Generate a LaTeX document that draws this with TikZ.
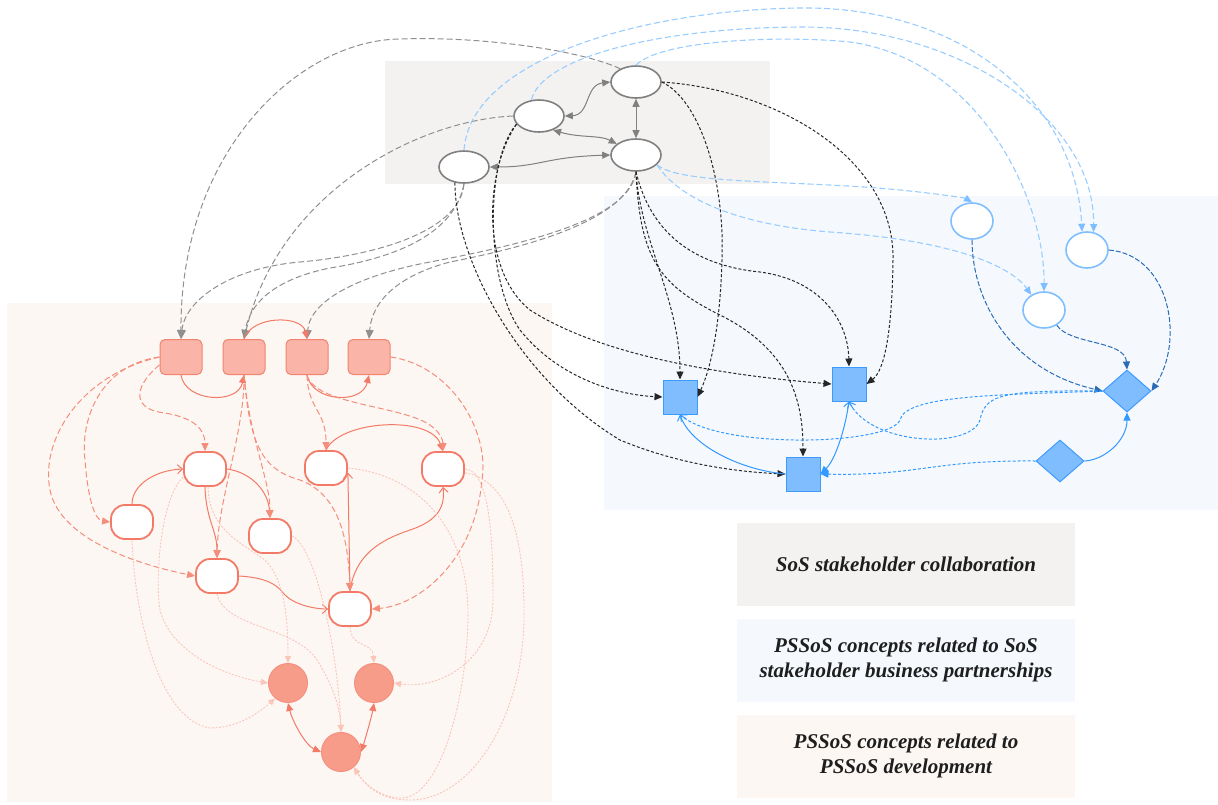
\documentclass[tikz,border=0pt]{standalone}
\usepackage{fontspec}
\setmainfont{Liberation Serif}
\usetikzlibrary{shapes.geometric,arrows.meta}
\definecolor{gbg}{HTML}{F3F2F1}
\definecolor{bbg}{HTML}{F5F9FE}
\definecolor{rbg}{HTML}{FDF7F4}
\definecolor{gnodec}{HTML}{808080}
\definecolor{glinec}{HTML}{8F8F8F}
\definecolor{klinec}{HTML}{262626}
\definecolor{lbluec}{HTML}{99CCFF}
\definecolor{lbnodec}{HTML}{80BFFF}
\definecolor{dbluec}{HTML}{2A6CB5}
\definecolor{mbluec}{HTML}{3399FF}
\definecolor{sqfillc}{HTML}{80BDFF}
\definecolor{sqdrawc}{HTML}{3D9BFF}
\definecolor{rsqfillc}{HTML}{FAB5A8}
\definecolor{rsqdrawc}{HTML}{F2836F}
\definecolor{rlinec}{HTML}{F37A66}
\definecolor{rdashc}{HTML}{F58D7B}
\definecolor{rlightc}{HTML}{FBC5B9}
\definecolor{rcfillc}{HTML}{F89C8A}
\definecolor{rcdrawc}{HTML}{F4907D}
\definecolor{legtext}{HTML}{1E1E1E}
\tikzset{
  gnode/.style={ellipse,draw=gnodec,line width=1.6pt,fill=white,minimum width=50pt,minimum height=32pt,inner sep=0pt},
  bnode/.style={ellipse,draw=lbnodec,line width=1.6pt,fill=white,minimum width=42pt,minimum height=36pt,inner sep=0pt},
  bsq/.style={rectangle,fill=sqfillc,draw=sqdrawc,line width=1pt,minimum size=34pt,inner sep=0pt},
  bdia/.style={diamond,fill=sqfillc,draw=sqdrawc,line width=1pt,minimum width=48pt,minimum height=42pt,inner sep=0pt},
  rsq/.style={rectangle,rounded corners=5pt,fill=rsqfillc,draw=rsqdrawc,line width=1pt,minimum width=42pt,minimum height=35pt,inner sep=0pt},
  rell/.style={rectangle,rounded corners=14pt,fill=white,draw=rlinec,line width=1.8pt,minimum width=42pt,minimum height=34pt,inner sep=0pt},
  rcirc/.style={circle,fill=rcfillc,draw=rcdrawc,line width=1pt,minimum size=39pt,inner sep=0pt},
  legbox/.style={rectangle,minimum width=338pt,minimum height=83pt,align=center,text=legtext,
     font=\fontsize{21}{25}\selectfont\bfseries\itshape},
  gedge/.style={draw=glinec,line width=1pt,dash pattern=on 6pt off 3pt,-{Triangle[length=9pt,width=8pt]}},
  gsol/.style={draw=gnodec,line width=1pt,{Triangle[length=8pt,width=7pt]}-{Triangle[length=8pt,width=7pt]}},
  kedge/.style={draw=klinec,line width=1pt,dash pattern=on 3pt off 2pt,-{Triangle[length=8pt,width=7pt]}},
  lbedge/.style={draw=lbluec,line width=1.1pt,dash pattern=on 6pt off 3pt,-{Triangle[length=8pt,width=7pt,color=lbnodec]}},
  dbedge/.style={draw=dbluec,line width=1pt,dash pattern=on 5pt off 2pt,-{Triangle[length=8pt,width=7pt]}},
  mbdot/.style={draw=mbluec,line width=1pt,dash pattern=on 3pt off 2pt},
  mbsol/.style={draw=mbluec,line width=1pt},
  rsol/.style={draw=rlinec,line width=1pt},
  rdash/.style={draw=rdashc,line width=1pt,dash pattern=on 6pt off 3pt},
  rdot/.style={draw=rlightc,line width=0.9pt,dash pattern=on 2pt off 1.5pt},
}
\begin{document}
\begin{tikzpicture}[x=1pt,y=-1pt]
\useasboundingbox (0,0) rectangle (1218,804);
% background regions
\fill[gbg] (385,61) rectangle (770,184);
\fill[bbg] (604,196) rectangle (1218,510);
\fill[rbg] (7,303) rectangle (552,802);

% legend
\node[legbox,fill=gbg] (L1) at (906,564) {SoS stakeholder collaboration};
\node[legbox,fill=bbg] (L2) at (906,660) {PSSoS concepts related to SoS\\stakeholder business partnerships};
\node[legbox,fill=rbg] (L3) at (906,756) {PSSoS concepts related to\\PSSoS development};

% gray nodes
\node[gnode] (G1) at (636,82) {};
\node[gnode] (G2) at (539,116) {};
\node[gnode] (G3) at (636,155) {};
\node[gnode] (G4) at (464,167) {};

% blue nodes
\node[bnode] (B1) at (972,221) {};
\node[bnode] (B2) at (1087,250) {};
\node[bnode] (B3) at (1044,310) {};
\node[bsq] (S1) at (680,397) {};
\node[bsq] (S2) at (849,384) {};
\node[bsq] (S3) at (803,474) {};
\node[bdia] (D1) at (1127,391) {};
\node[bdia] (D2) at (1060,461) {};

% red nodes
\node[rsq] (R1) at (181,357) {};
\node[rsq] (R2) at (244,357) {};
\node[rsq] (R3) at (307,357) {};
\node[rsq] (R4) at (369,357) {};
\node[rell] (E1) at (205,469) {};
\node[rell] (E2) at (326,468) {};
\node[rell] (E3) at (443,469) {};
\node[rell] (E4) at (132,522) {};
\node[rell] (E5) at (270,536) {};
\node[rell] (E6) at (217,576) {};
\node[rell] (E7) at (350,609) {};
\node[rcirc] (C1) at (288,683) {};
\node[rcirc] (C2) at (374,683) {};
\node[rcirc] (C3) at (341,752) {};

% ---- gray solid edges
\draw[gsol] (G2.east) .. controls (590,115) and (585,85) .. (G1.west);
\draw[gsol] (G1.south) -- (G3.north);
\draw[gsol] (G2.-45) .. controls (580,138) and (600,135) .. (G3.150);
\draw[gsol] (G4.east) .. controls (540,167) and (545,157) .. (G3.west);

% ---- gray dashed edges to red squares
\draw[gedge] (G1.140) .. controls (580,50) and (480,36) .. (400,39) .. controls (300,40) and (180,150) .. (R1.north);
\draw[gedge] (G2.west) .. controls (420,120) and (280,190) .. (R2.north);
\draw[gedge] (G4.south) .. controls (460,230) and (380,255) .. (300,262) .. controls (230,268) and (185,300) .. (R1.north);
\draw[gedge] (G4.south) .. controls (455,232) and (400,257) .. (330,268) .. controls (280,278) and (250,300) .. (R2.north);
\draw[gedge] (G3.south) .. controls (630,220) and (520,245) .. (430,262) .. controls (360,275) and (310,300) .. (R3.north);
\draw[gedge] (G3.south) .. controls (625,225) and (510,250) .. (450,262) .. controls (400,275) and (372,300) .. (R4.north);

% ---- black dashed edges to blue squares
\draw[kedge] (G3.south) .. controls (640,240) and (680,300) .. (S1.north);
\draw[kedge] (G3.south) .. controls (640,260) and (660,285) .. (720,315) .. controls (790,350) and (803,400) .. (S3.north);
\draw[kedge] (G3.south) .. controls (650,230) and (690,265) .. (760,272) .. controls (820,280) and (848,320) .. (S2.north);
\draw[kedge] (G1.east) .. controls (780,90) and (895,160) .. (893,260) .. controls (892,330) and (885,370) .. (S2.east);
\draw[kedge] (G1.east) .. controls (700,100) and (725,180) .. (722,260) .. controls (720,330) and (710,370) .. (S1.east);
\draw[kedge] (G2.200) .. controls (485,160) and (485,280) .. (520,330) .. controls (560,380) and (620,395) .. (S1.west);
\draw[kedge] (G2.200) .. controls (485,170) and (480,270) .. (530,310) .. controls (600,355) and (720,375) .. (S2.west);
\draw[kedge] (G4.240) .. controls (455,260) and (520,380) .. (620,440) .. controls (680,465) and (740,472) .. (S3.west);

% ---- light blue dashed edges
\draw[lbedge] (G4.north) .. controls (470,60) and (640,10) .. (800,8) .. controls (960,6) and (1075,100) .. (B2.105);
\draw[lbedge] (G2.115) .. controls (540,60) and (650,28) .. (800,27) .. controls (960,26) and (1095,120) .. (B2.70);
\draw[lbedge] (G1.north) .. controls (660,40) and (780,35) .. (850,42) .. controls (980,60) and (1045,200) .. (B3.north);
\draw[lbedge] (G3.-25) .. controls (680,185) and (800,180) .. (900,190) .. controls (940,194) and (965,198) .. (B1.north);
\draw[lbedge] (G3.-25) .. controls (680,200) and (740,225) .. (830,232) .. controls (950,240) and (1010,265) .. (B3.130);

% ---- dark blue dashed edges
\draw[dbedge] (B1.south) .. controls (972,300) and (1010,370) .. (D1.west);
\draw[dbedge] (B3.-50) .. controls (1070,345) and (1125,340) .. (D1.north);
\draw[dbedge] (B2.east) .. controls (1170,255) and (1185,340) .. (D1.east);

% ---- medium blue edges
\draw[mbdot,-{Straight Barb[length=5pt,width=9pt]}] (D1.west) .. controls (1000,395) and (905,395) .. (900,420) .. controls (890,445) and (720,450) .. (S1.south);
\draw[mbdot,-{Straight Barb[length=5pt,width=9pt]}] (D1.west) .. controls (1000,390) and (985,395) .. (980,420) .. controls (970,450) and (870,445) .. (S2.south);
\draw[mbdot,-{Triangle[length=8pt,width=7pt]}] (D2.west) .. controls (930,460) and (920,476) .. (S3.east);
\draw[mbsol,-{Triangle[length=8pt,width=7pt]}] (D2.east) .. controls (1105,460) and (1127,440) .. (D1.south);
\draw[mbsol,-{Straight Barb[length=5pt,width=9pt]}] (S3.west) .. controls (740,470) and (690,445) .. (S1.south);
\draw[mbsol,{Triangle[length=8pt,width=7pt]}-{Straight Barb[length=5pt,width=9pt]}] (S3.east) .. controls (835,460) and (845,430) .. (S2.south);

% ---- red solid edges
\draw[rsol,-{Triangle[length=8pt,width=7pt]}] (R1.south) .. controls (185,402) and (238,405) .. (R2.south);
\draw[rsol,-{Triangle[length=8pt,width=7pt]}] (R2.north) .. controls (252,315) and (302,315) .. (R3.north);
\draw[rsol,-{Triangle[length=8pt,width=7pt]}] (R3.south) .. controls (312,402) and (362,405) .. (R4.south);
\draw[rsol,-{Triangle[length=8pt,width=7pt]}] (E2.north) .. controls (340,420) and (430,415) .. (E3.north);
\draw[rsol,-{Straight Barb[length=5pt,width=9pt]}] (E4.north) .. controls (132,485) and (155,470) .. (E1.west);
\draw[rsol,-{Triangle[length=8pt,width=7pt]}] (E1.east) .. controls (250,472) and (268,490) .. (E5.north);
\draw[rsol,-{Triangle[length=8pt,width=7pt]}] (E1.south) .. controls (206,520) and (217,530) .. (E6.north);
\draw[rsol,-{Straight Barb[length=5pt,width=9pt]}] (E6.east) .. controls (275,578) and (280,590) .. (285,595) .. controls (295,605) and (315,609) .. (E7.west);
\draw[rsol,{Straight Barb[length=5pt,width=9pt]}-{Triangle[length=8pt,width=7pt]}] (E2.-12) -- (E7.north);
\draw[rsol,-{Straight Barb[length=5pt,width=9pt]}] (E7.north) .. controls (355,555) and (380,540) .. (410,530) .. controls (440,520) and (445,505) .. (E3.south);
\draw[rsol,{Triangle[length=8pt,width=7pt]}-{Triangle[length=8pt,width=7pt]}] (C1.south) .. controls (292,720) and (305,745) .. (C3.west);
\draw[rsol,{Triangle[length=8pt,width=7pt]}-{Triangle[length=8pt,width=7pt]}] (C2.south) .. controls (372,715) and (365,740) .. (C3.east);

% ---- red dashed edges
\draw[rdash,-{Triangle[length=8pt,width=7pt]}] (R1.west) .. controls (100,365) and (80,420) .. (85,460) .. controls (88,500) and (95,520) .. (E4.west);
\draw[rdash,-{Triangle[length=8pt,width=7pt]}] (R1.west) .. controls (80,375) and (40,440) .. (50,490) .. controls (60,540) and (140,565) .. (E6.west);
\draw[rdash,-{Triangle[length=8pt,width=7pt]}] (R1.200) .. controls (130,390) and (135,410) .. (165,413) .. controls (195,418) and (205,430) .. (E1.north);
\draw[rdash,-{Triangle[length=8pt,width=7pt]}] (R2.south) .. controls (245,430) and (218,500) .. (E6.north);
\draw[rdash,-{Triangle[length=8pt,width=7pt]}] (R2.south) .. controls (250,440) and (270,480) .. (E5.north);
\draw[rdash,-{Triangle[length=8pt,width=7pt]}] (R2.south) .. controls (250,450) and (265,470) .. (300,480) .. controls (340,495) and (348,540) .. (E7.north);
\draw[rdash,-{Triangle[length=8pt,width=7pt]}] (R3.south) .. controls (308,410) and (326,410) .. (E2.north);
\draw[rdash,-{Triangle[length=8pt,width=7pt]}] (R3.south) .. controls (315,405) and (400,405) .. (430,425) .. controls (440,432) and (443,440) .. (E3.north);
\draw[rdash,-{Triangle[length=8pt,width=7pt]}] (R4.east) .. controls (450,365) and (490,430) .. (482,480) .. controls (475,560) and (420,605) .. (E7.east);

% ---- red light dotted edges
\draw[rdot,-{Triangle[length=7pt,width=6pt]}] (E4.south) .. controls (135,620) and (160,720) .. (210,728) .. controls (240,728) and (262,710) .. (C1.230);
\draw[rdot,-{Triangle[length=7pt,width=6pt]}] (E1.200) .. controls (160,500) and (155,580) .. (160,610) .. controls (170,650) and (220,675) .. (C1.west);
\draw[rdot,-{Triangle[length=7pt,width=6pt]}] (E1.-80) .. controls (208,530) and (245,545) .. (265,560) .. controls (285,580) and (288,620) .. (C1.north);
\draw[rdot,-{Triangle[length=7pt,width=6pt]}] (E5.east) .. controls (315,545) and (338,650) .. (C3.north);
\draw[rdot,-{Triangle[length=7pt,width=6pt]}] (E6.south) .. controls (225,630) and (300,625) .. (320,665) .. controls (335,690) and (340,710) .. (C3.north);
\draw[rdot,-{Triangle[length=7pt,width=6pt]}] (E7.south) .. controls (352,650) and (372,640) .. (C2.north);
\draw[rdot,-{Triangle[length=7pt,width=6pt]}] (E2.east) .. controls (420,475) and (470,530) .. (468,620) .. controls (466,700) and (440,800) .. (400,798) .. controls (380,797) and (365,785) .. (C3.-50);
\draw[rdot,-{Triangle[length=7pt,width=6pt]}] (E3.east) .. controls (490,470) and (493,540) .. (493,600) .. controls (493,660) and (440,690) .. (C2.east);
\draw[rdot,-{Triangle[length=7pt,width=6pt]}] (E3.-10) .. controls (510,480) and (525,540) .. (524,620) .. controls (522,720) and (470,800) .. (410,800) .. controls (385,800) and (368,790) .. (C3.-50);
\end{tikzpicture}
\end{document}
